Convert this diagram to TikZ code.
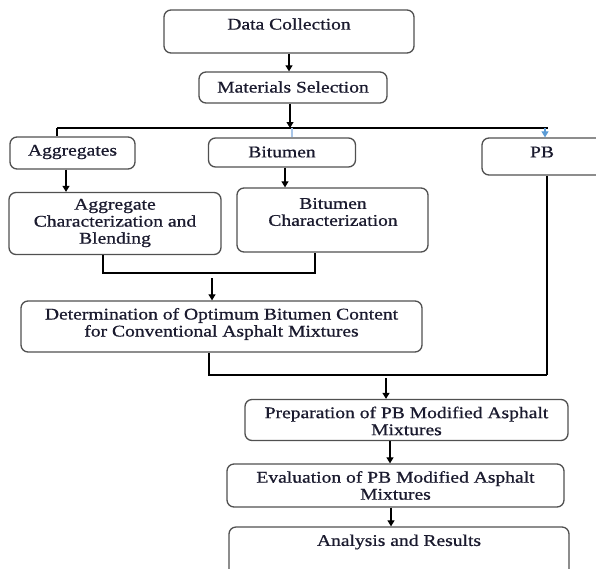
\documentclass[tikz,border=0pt]{standalone}
\usepackage{fontspec}
\setmainfont{Liberation Serif}[FakeStretch=1.2,FakeBold=0.8]
\usetikzlibrary{arrows.meta}
\definecolor{boxc}{HTML}{505050}
\definecolor{txtc}{HTML}{1A1A2E}
\definecolor{blu}{HTML}{5B9BD5}
\definecolor{lblu}{HTML}{A9C6E8}
\tikzset{
  box/.style={draw=boxc, line width=1.3pt, rounded corners=7pt, inner sep=0pt, fill=white},
  txt/.style={text=txtc, font=\fontsize{16.3}{17}\selectfont, align=center, inner sep=0pt},
  conn/.style={line width=1.1pt},
  arr/.style={conn, -{Triangle[width=7pt,length=6pt]}},
}
\begin{document}
\begin{tikzpicture}[x=1pt,y=-1pt]
\clip (0,0) rectangle (596,568);
\fill[white] (0,0) rectangle (596,568);

% boxes
\node[box, minimum width=250pt, minimum height=43pt] (dc) at (289,31.5) {};
\node[box, minimum width=188pt, minimum height=31pt] (ms) at (293,87.5) {};
\node[box, minimum width=125pt, minimum height=32pt] (agg) at (72.5,153) {};
\node[box, minimum width=147pt, minimum height=29pt] (bit) at (282,152.5) {};
\node[box, minimum width=168pt, minimum height=37pt] (pb) at (566,156.5) {};
\node[box, minimum width=212pt, minimum height=62pt] (ac) at (115,223.5) {};
\node[box, minimum width=191pt, minimum height=64pt] (bc) at (332.5,220) {};
\node[box, minimum width=401pt, minimum height=51pt] (det) at (221.5,326.5) {};
\node[box, minimum width=323pt, minimum height=41pt] (prep) at (406.5,420) {};
\node[box, minimum width=337pt, minimum height=43pt] (eval) at (395.5,485.5) {};
\node[box, minimum width=340pt, minimum height=73pt] (ar) at (399,563.5) {};

% texts
\node[txt] (tdc) at (289,24) {Data Collection};
\node[txt] (tms) at (293,87) {Materials Selection};
\node[txt] (tagg) at (72.5,152) {Aggregates};
\node[txt] (tbit) at (282,152) {Bitumen};
\node[txt] (tpb) at (542,152) {PB};
\node[txt] (tac) at (115,223) {Aggregate\\Characterization and\\Blending};
\node[txt] (tbc) at (333,212) {Bitumen\\Characterization};
\node[txt] (tdet) at (221.5,324) {Determination of Optimum Bitumen Content\\for Conventional Asphalt Mixtures};
\node[txt] (tprep) at (406.5,421) {Preparation of PB Modified Asphalt\\Mixtures};
\node[txt] (teval) at (395.5,485.5) {Evaluation of PB Modified Asphalt\\Mixtures};
\node[txt] (tar) at (399,542) {Analysis and Results};

% connectors
\draw[arr] (dc.south) -- (dc.south |- ms.north);
\coordinate (hub) at (290,128);
\draw[arr] (ms.south -| hub) -- (hub);
\coordinate (hl) at (57,128);
\coordinate (hr) at (548,128);
\draw[conn] (hl) -- (hr);
\draw[conn] (hl) -- (hl |- agg.north);
\coordinate (hb) at (292,128);
\draw[conn, draw=lblu] (hb) -- (hb |- bit.north);
\coordinate (hp) at (545,128);
\draw[arr, draw=blu, fill=blu] (hp) -- (hp |- pb.north);

\coordinate (xa) at (66,0);
\draw[arr] (agg.south -| xa) -- (ac.north -| xa);
\coordinate (xb) at (285,0);
\draw[arr] (bit.south -| xb) -- (bc.north -| xb);

\coordinate (m1) at (103,273);
\coordinate (m2) at (315,273);
\draw[conn] (ac.south -| m1) -- (m1) -- (m2) -- (bc.south -| m2);
\coordinate (m3) at (212,278);
\draw[arr] (m3) -- (det.north -| m3);

\coordinate (j1) at (209,375);
\coordinate (j2) at (547,375);
\draw[conn] (pb.south -| j2) -- (j2);
\draw[conn] (det.south -| j1) -- (j1) -- (j2);
\coordinate (j3) at (386,378);
\draw[arr] (j3) -- (prep.north -| j3);

\coordinate (xe) at (390,0);
\draw[arr] (prep.south -| xe) -- (eval.north -| xe);
\coordinate (xr) at (391,0);
\draw[arr] (eval.south -| xr) -- (ar.north -| xr);
\end{tikzpicture}
\end{document}
